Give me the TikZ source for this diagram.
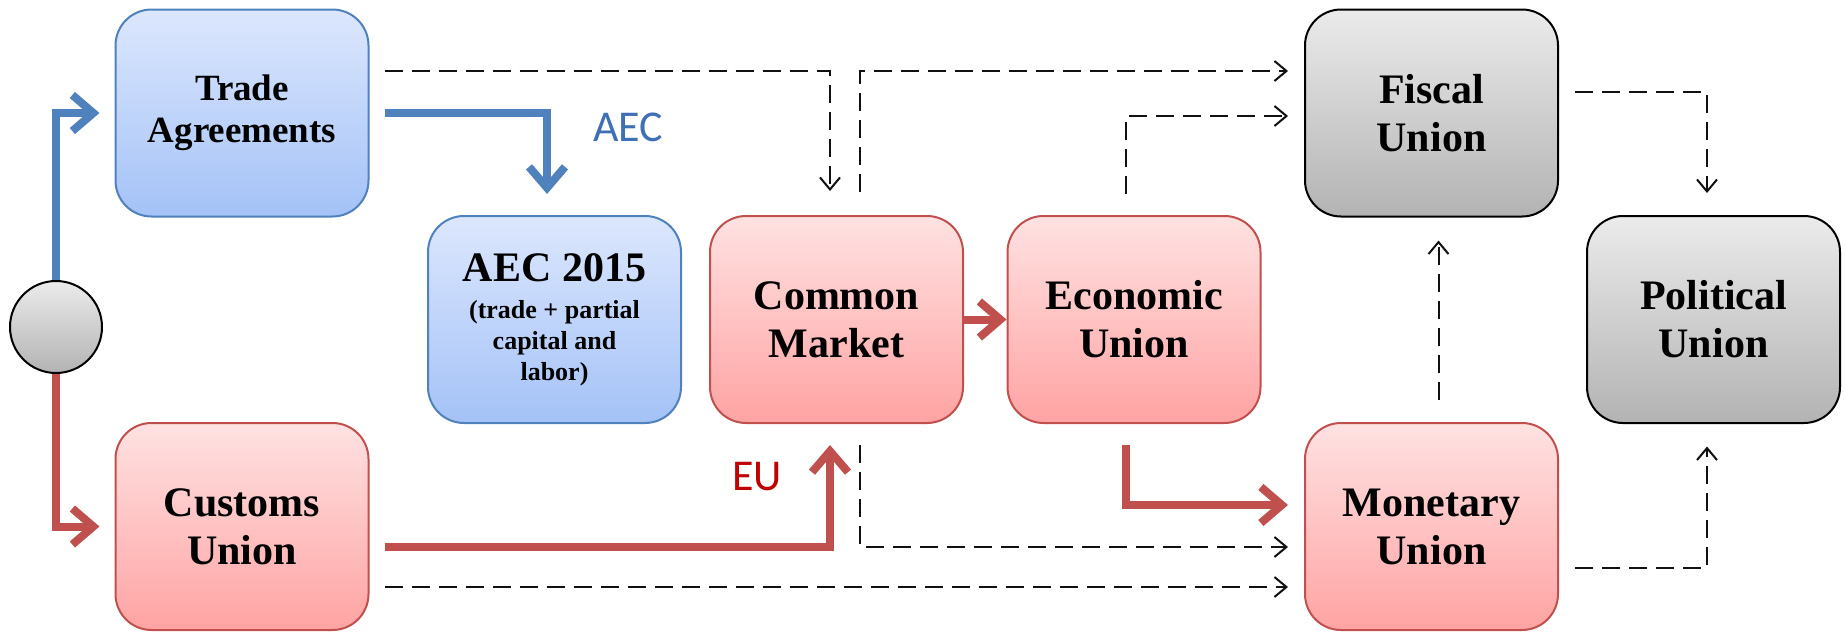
\documentclass[tikz,border=0pt]{standalone}
\usepackage{fontspec}
\setmainfont{Liberation Serif}
\newfontfamily\labelfont{Carlito}
\usetikzlibrary{arrows.meta,calc}
\definecolor{bbord}{HTML}{4F81BD}
\definecolor{btop}{HTML}{DCE7FD}
\definecolor{bbot}{HTML}{A4C2F7}
\definecolor{rbord}{HTML}{C0504D}
\definecolor{rtop}{HTML}{FFE2E2}
\definecolor{rbot}{HTML}{FFA3A3}
\definecolor{gtop}{HTML}{EBEBEB}
\definecolor{gbot}{HTML}{B3B3B3}
\definecolor{aecblue}{HTML}{3F6FB5}
\definecolor{eured}{HTML}{C00000}
\definecolor{dashcol}{HTML}{111111}
\newcommand{\bigtxt}{\fontsize{42}{48}\selectfont}
\tikzset{
  box/.style={rectangle, rounded corners=36pt, minimum width=253pt, minimum height=207pt,
    line width=2pt, align=center, inner sep=0pt, text=black,
    font=\bfseries\fontsize{42}{48}\selectfont},
  bluebox/.style={box, draw=bbord, top color=btop, bottom color=bbot},
  redbox/.style={box, draw=rbord, top color=rtop, bottom color=rbot},
  graybox/.style={box, draw=black, top color=gtop, bottom color=gbot},
  thickblue/.style={draw=bbord, line width=8pt, -{Straight Barb[length=21pt,width=36pt]}},
  thickred/.style={draw=rbord, line width=8pt, -{Straight Barb[length=21pt,width=36pt]}},
  dasharrow/.style={draw=dashcol, line width=2pt, dash pattern=on 18pt off 9pt,
    -{Straight Barb[length=12pt,width=20pt]}},
  biglabel/.style={font=\labelfont\fontsize{44}{50}\selectfont}
}
\begin{document}
\begin{tikzpicture}[x=1pt,y=-1pt]
\useasboundingbox (0,0) rectangle (1845,632);
% nodes
\node[circle, minimum size=92pt, inner sep=0pt, draw=black, line width=2pt,
      top color=gtop, bottom color=gbot] (circ) at (56,327) {};
\node[bluebox, font=\bfseries\fontsize{37}{42}\selectfont] (trade) at (242,113) {Trade\\Agreements};
\node[redbox] (customs) at (242,526.5) {Customs\\Union};
\node[bluebox, font=\bfseries\fontsize{26}{31}\selectfont] (aec) at (554.5,319.5)
  {{\bigtxt AEC 2015}\\[6pt](trade + partial\\capital and\\labor)};
\node[redbox] (common) at (836.5,319.5) {Common\\Market};
\node[redbox] (economic) at (1134,319.5) {Economic\\Union};
\node[graybox] (fiscal) at (1431.5,113) {Fiscal\\Union};
\node[redbox] (monetary) at (1431.5,526.5) {Monetary\\Union};
\node[graybox] (political) at (1713.5,319.5) {Political\\Union};
% labels
\node[biglabel, text=aecblue] (aeclabel) at (628,127) {AEC};
\node[biglabel, text=eured] (eulabel) at (757,477) {EU};
% thick connectors
\draw[thickblue, shorten >=15pt] (circ.north) |- (trade.west);
\draw[thickred, shorten >=15pt] (circ.south) |- (customs.west);
\draw[thickblue, shorten <=15pt, shorten >=21pt] (trade.east) -| ([xshift=-7.5pt]aec.north);
\draw[thickred, shorten <=15pt, shorten >=21pt] ([yshift=-20.5pt]customs.east) -| ([xshift=-6.5pt]common.south);
\draw[thickred] (common.east) -- (economic.west);
\draw[thickred, shorten <=21pt, shorten >=16pt] ([xshift=-8pt]economic.south) |- ([yshift=21.5pt]monetary.west);
% dashed connectors
\draw[dasharrow, shorten <=15pt, shorten >=24pt] ([yshift=42pt]trade.east) -| ([xshift=-6.5pt]common.north);
\draw[dasharrow, shorten <=23pt, shorten >=16pt] ([xshift=23.5pt]common.north) |- ([yshift=42pt]fiscal.west);
\draw[dasharrow, shorten <=21pt, shorten >=16pt] ([xshift=-8pt]economic.north) |- ([yshift=-3pt]fiscal.west);
\draw[dasharrow, shorten <=21pt, shorten >=16pt] ([xshift=23.5pt]common.south) |- ([yshift=-20.5pt]monetary.west);
\draw[dasharrow, shorten <=15pt, shorten >=16pt] ([yshift=-60.5pt]customs.east) -- ([yshift=-60.5pt]monetary.west);
\draw[dasharrow, shorten <=22pt, shorten >=23pt] ([xshift=7pt]monetary.north) -- ([xshift=7pt]fiscal.south);
\draw[dasharrow, shorten <=16pt, shorten >=22pt] ([yshift=21pt]fiscal.east) -| ([xshift=-6.5pt]political.north);
\draw[dasharrow, shorten <=16pt, shorten >=22.5pt] ([yshift=-41.5pt]monetary.east) -| ([xshift=-6.5pt]political.south);
\end{tikzpicture}
\end{document}
